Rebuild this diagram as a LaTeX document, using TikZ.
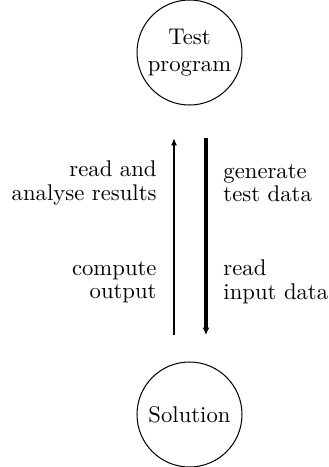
\documentclass[tikz,border=0pt]{standalone}
\usetikzlibrary{arrows.meta}
\begin{document}
\begin{tikzpicture}[x=0.4405pt,y=-0.4405pt,
  proc/.style={circle,draw,line width=0.45pt,minimum size=105*0.4405pt,inner sep=0pt,align=center},
  lbl/.style={inner sep=0pt,font=\fontsize{10}{10.3}\selectfont},
  upflow/.style={line width=0.75pt,-{Latex[length=3.2pt,width=2.6pt]}},
  downflow/.style={line width=1.4pt,-{Latex[length=3.2pt,width=3pt]}}]
\useasboundingbox (0,0) rectangle (328,467);
\node[proc] (tp) at (189.5,52.5) {Test\\program};
\node[proc] (sol) at (189.5,414.5) {Solution};
\coordinate (lb) at (174,335);
\coordinate (lt) at (174,138);
\coordinate (rt) at (206,138);
\coordinate (rb) at (206,335);
\draw[upflow] (lb) -- (lt);
\draw[downflow] (rt) -- (rb);
\node[lbl,anchor=east,align=right] (l1) at (157,183) {read and\\analyse results};
\node[lbl,anchor=east,align=right] (l2) at (157,282) {compute\\output};
\node[lbl,anchor=west,align=left] (r1) at (223,183) {generate\\test data};
\node[lbl,anchor=west,align=left] (r2) at (223,282) {read\\input data};
\end{tikzpicture}
\end{document}
